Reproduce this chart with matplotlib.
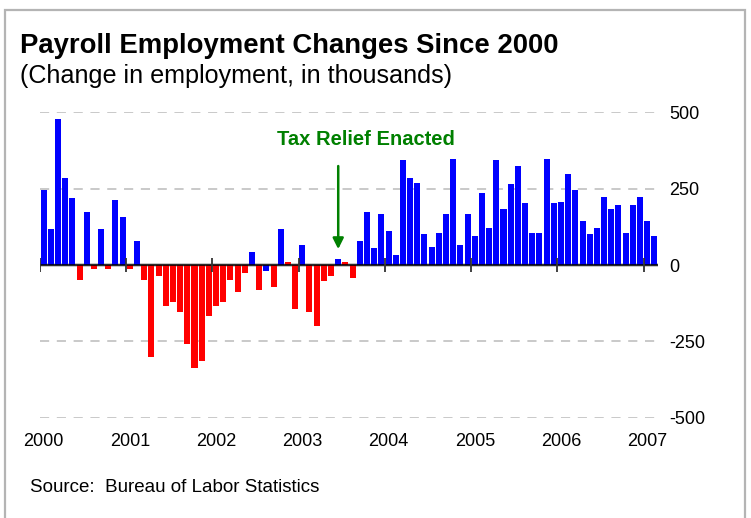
import numpy as np
import matplotlib
matplotlib.use("Agg")
import matplotlib.pyplot as plt
from matplotlib.patches import Rectangle

plt.rcParams["font.family"] = ["Liberation Sans", "DejaVu Sans"]

# monthly payroll changes, thousands (Jan 2000 - Feb 2007)
changes = [
    246, 118, 478, 285, 220, -49, 174, -13, 118, -13, 213, 157,        # 2000
    -13, 79, -49, -301, -36, -134, -121, -154, -259, -337, -315, -167,  # 2001
    -134, -121, -49, -88, -26, 43, -82, -20, -72, 118, 10, -144,       # 2002
    66, -154, -200, -52, -36, 20, 10, -43, 79, 174, 56, 167,           # 2003
    111, 33, 344, 285, 269, 102, 59, 105, 167, 347, 66, 167,           # 2004
    95, 236, 121, 344, 183, 265, 324, 203, 105, 105, 347, 203,         # 2005
    206, 298, 246, 144, 102, 121, 223, 183, 197, 105, 197, 223,        # 2006
    144, 95,                                                           # 2007
]
years = ["2000", "2001", "2002", "2003", "2004", "2005", "2006", "2007"]
y_ticks = [-500, -250, 0, 250, 500]
y_labels = ["-500", "-250", "0", "250", "500"]

# months whose colour follows the first estimate rather than the revised sign
flipped = [31, 34, 42]
tax_relief_month = 41   # June 2003

colors = []
for i, v in enumerate(changes):
    c = "#0000FF" if v > 0 else "#FF0000"
    if i in flipped:
        c = "#FF0000" if c == "#0000FF" else "#0000FF"
    colors.append(c)

fig = plt.figure(figsize=(7.51, 5.18), dpi=100)
ax = fig.add_axes([40 / 751, 1 - 417.7 / 518, 618 / 751, 305.4 / 518])

x = np.arange(len(changes)) + 0.5
ax.bar(x, changes, width=0.84, color=colors, zorder=3)

# dashed gridlines, solid zero line
for yv in y_ticks:
    if yv == 0:
        ax.axhline(0, color="#bbbbbb", lw=2.6, zorder=2)
        ax.axhline(0, color="black", lw=1.1, zorder=4)
    else:
        ax.axhline(yv, color="#bbbbbb", lw=1.1, ls=(0, (6, 5)), zorder=1)

year_pos = np.arange(len(years)) * 12
ax.plot(year_pos, np.zeros(len(year_pos)), ls="none", marker="|",
        markersize=10, mew=1.3, color="#333333", zorder=5)

ax.set_xlim(0, len(changes))
ax.set_ylim(-500, 500)
ax.set_xticks(year_pos + 0.5)
ax.set_xticklabels(years, fontsize=13)
ax.yaxis.tick_right()
ax.set_yticks(y_ticks)
ax.set_yticklabels(y_labels, fontsize=13)
ax.tick_params(axis="x", length=0, pad=11)
ax.tick_params(axis="y", length=0, pad=8)
for s in ax.spines.values():
    s.set_visible(False)

# tax relief annotation
ax.annotate("", xy=(tax_relief_month + 0.5, 52), xytext=(tax_relief_month + 0.5, 324),
            arrowprops=dict(arrowstyle="-|>", color="#008000", lw=1.8,
                            mutation_scale=16, shrinkA=0, shrinkB=0),
            zorder=6)
ax.text(45.4, 410, "Tax Relief Enacted", color="#008000", fontsize=14.5,
        fontweight="bold", ha="center", va="center")

fig.text(20 / 751, 1 - 46 / 518, "Payroll Employment Changes Since 2000",
         fontsize=19.8, fontweight="bold", ha="left", va="center")
fig.text(20 / 751, 1 - 76 / 518, "(Change in employment, in thousands)",
         fontsize=18.1, ha="left", va="center")
fig.text(30 / 751, 1 - 487 / 518, "Source:  Bureau of Labor Statistics",
         fontsize=13.5, ha="left", va="center")

# outer frame
fig.patches.append(Rectangle((4.5 / 751, -0.05), 740.5 / 751, 1.05 - 9.5 / 518,
                             transform=fig.transFigure, fill=False,
                             edgecolor="#b4b4b4", lw=1.6))

fig.savefig("out.png", dpi=100)
